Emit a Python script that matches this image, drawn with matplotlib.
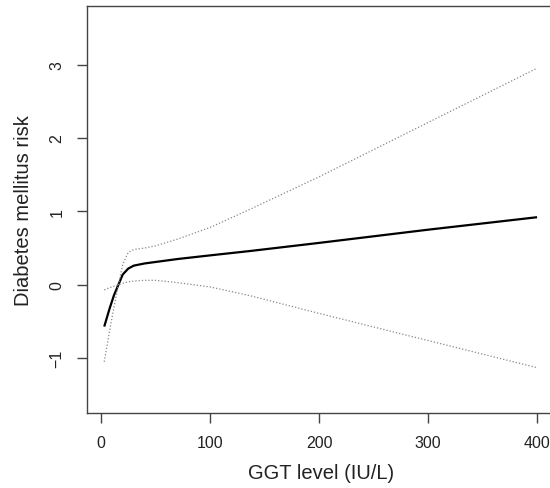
import matplotlib
matplotlib.use("Agg")
import matplotlib.pyplot as plt
import numpy as np

plt.rcParams['font.family'] = ['Liberation Sans', 'DejaVu Sans']

# spline fit of diabetes risk vs GGT
ggt = [3, 8, 12, 16, 20, 25, 30, 40, 50, 70, 100, 137, 200, 300, 400]
risk = [-0.57, -0.32, -0.14, 0.0, 0.14, 0.22, 0.26, 0.29, 0.31, 0.35, 0.40,
        0.46, 0.57, 0.75, 0.92]
upper = [-1.05, -0.62, -0.30, 0.0, 0.28, 0.44, 0.48, 0.50, 0.53, 0.62, 0.78,
         1.03, 1.47, 2.21, 2.95]
lower = [-0.07, -0.04, -0.02, 0.0, 0.02, 0.04, 0.05, 0.06, 0.06, 0.03, -0.03,
         -0.15, -0.39, -0.76, -1.13]

xticks = [0, 100, 200, 300, 400]
yticks = [-1, 0, 1, 2, 3]

fig = plt.figure(figsize=(5.5, 4.89), dpi=100)
ax = fig.add_axes([0.158, 0.153, 0.850, 0.833])

ax.plot(ggt, risk, color='black', lw=1.6, solid_capstyle='butt')
ax.plot(ggt, upper, color='#888888', lw=0.9, ls=(0, (1, 1.6)))
ax.plot(ggt, lower, color='#888888', lw=0.9, ls=(0, (1, 1.6)))

ax.set_xlim(-12.9, 415.9)
ax.set_ylim(-1.75, 3.8)
ax.set_xticks(xticks)
ax.set_yticks(yticks)
ax.set_yticklabels([str(t).replace('-', '\u2212') for t in yticks],
                   rotation=90, va='center')

for s in ax.spines.values():
    s.set_color('#444444')
    s.set_linewidth(1.0)
ax.tick_params(colors='#444444', labelcolor='#222222', length=7, width=1.0,
               labelsize=11.5, pad=9)

ax.set_xlabel('GGT level (IU/L)', fontsize=14.5, color='#222222', labelpad=9)
ax.set_ylabel('Diabetes mellitus risk', fontsize=14.5, color='#222222',
              labelpad=12)

fig.savefig('out.png', dpi=100)
